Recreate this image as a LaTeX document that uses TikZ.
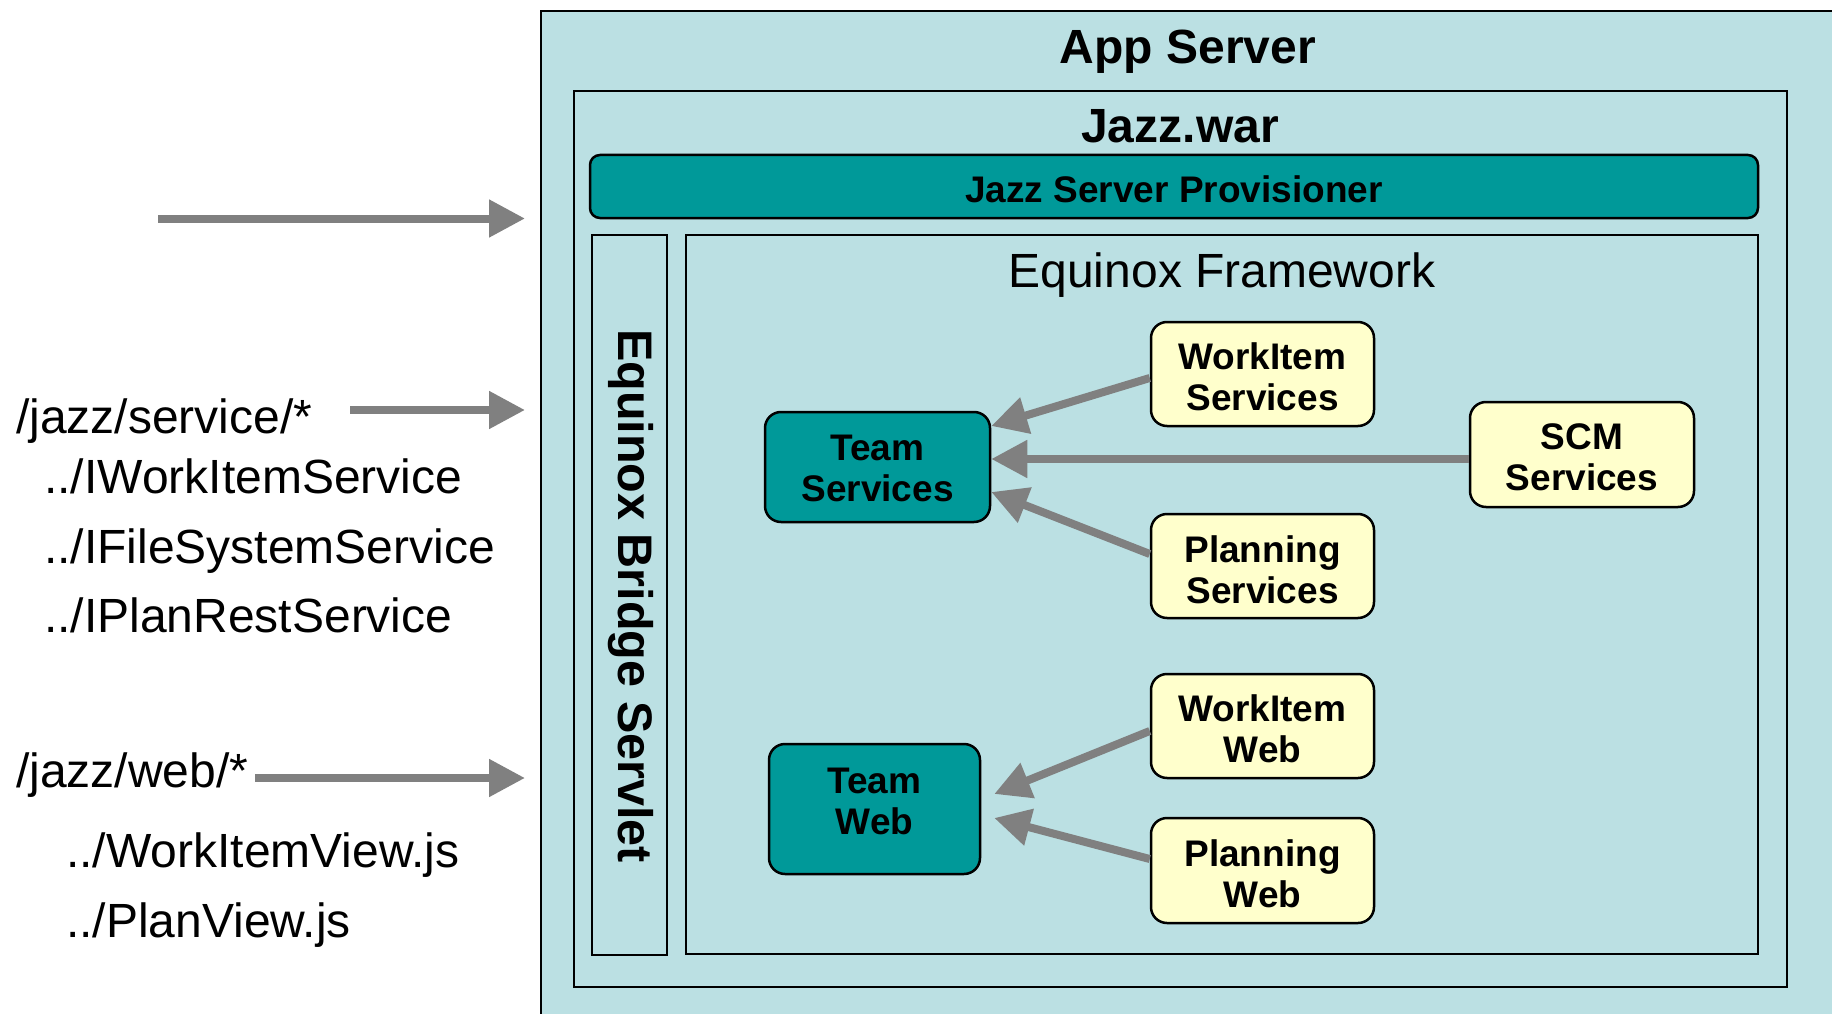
\documentclass[tikz,border=0pt]{standalone}
\usepackage{fontspec}
\setmainfont{Liberation Sans}
\usetikzlibrary{arrows.meta}
\definecolor{bgblue}{RGB}{187,224,227}
\definecolor{tealbox}{RGB}{0,153,153}
\definecolor{cream}{RGB}{255,255,204}
\definecolor{arrgray}{RGB}{128,128,128}
\begin{document}
\begin{tikzpicture}[x=1pt,y=-1pt,
  frame/.style={draw=black, line width=2.5pt, fill=bgblue},
  teambox/.style={draw=black, line width=2.5pt, fill=tealbox, rounded corners=16pt, inner sep=0pt},
  svcbox/.style={teambox, fill=cream},
  boxtxt/.style={align=center, font=\fontsize{37}{41}\selectfont\bfseries, inner sep=0pt},
  conn/.style={draw=arrgray, line width=8pt, -{Triangle[length=36pt,width=36pt]}},
  lbl/.style={anchor=base west, font=\fontsize{48}{48}\selectfont, inner sep=0pt},
  title/.style={anchor=base, font=\fontsize{48}{48}\selectfont\bfseries, inner sep=0pt}]
\useasboundingbox (0,0) rectangle (1832,1014);
\clip (0,0) rectangle (1832,1014);
\fill[white] (0,0) rectangle (1832,1014);

% containers
\draw[frame] (541,11) rectangle (1870,1050);
\node[title] (app) at (1188,64) {App Server};
\draw[frame] (574,91) rectangle (1787,987);
\node[title] (war) at (1180,143) {Jazz.war};
\node[draw=black, line width=2.5pt, fill=tealbox, rounded corners=10pt,
      minimum width=1168pt, minimum height=63pt, inner sep=0pt] (prov) at (1174,186.5) {};
\node[anchor=base, font=\fontsize{37}{37}\selectfont\bfseries, inner sep=0pt] (provtxt) at (1174,202) {Jazz Server Provisioner};
\node[frame, minimum width=75pt, minimum height=720pt, inner sep=0pt] (bridge) at (629.5,595) {};
\node[rotate=-90, font=\fontsize{48.5}{48.5}\selectfont\bfseries, inner sep=0pt] (bridgetxt) at (631,596) {Equinox Bridge Servlet};
\draw[frame] (686,235) rectangle (1758,954);
\node[anchor=base, font=\fontsize{48}{48}\selectfont, inner sep=0pt] (fw) at (1222,287) {Equinox Framework};

% component boxes
\node[teambox, minimum width=225pt, minimum height=110pt] (ts) at (877.5,467) {};
\node[svcbox, minimum width=223pt, minimum height=104pt] (wis) at (1262.5,374) {};
\node[svcbox, minimum width=224pt, minimum height=105pt] (scm) at (1582,454.5) {};
\node[svcbox, minimum width=223pt, minimum height=104pt] (ps) at (1262.5,566) {};
\node[svcbox, minimum width=223pt, minimum height=104pt] (wiw) at (1262.5,726) {};
\node[teambox, minimum width=211pt, minimum height=130pt] (tw) at (874.5,809) {};
\node[svcbox, minimum width=223pt, minimum height=105pt] (pw) at (1262.5,870.5) {};

% box texts
\node[boxtxt] (tstxt) at ([yshift=-1pt]ts.center) {Team\\Services};
\node[boxtxt] (wistxt) at ([yshift=-3pt]wis.center) {WorkItem\\Services};
\node[boxtxt] (scmtxt) at ([yshift=-3pt]scm.center) {SCM\\Services};
\node[boxtxt] (pstxt) at ([yshift=-3.5pt]ps.center) {Planning\\Services};
\node[boxtxt] (wiwtxt) at ([yshift=-3pt]wiw.center) {WorkItem\\Web};
\node[boxtxt] (twtxt) at ([yshift=8pt]tw.center) {Team\\Web};
\node[boxtxt] (pwtxt) at ([yshift=-3pt]pw.center) {Planning\\Web};

% internal connectors
\draw[conn] ([yshift=-4pt]wis.west) -- ([yshift=41pt]ts.east);
\draw[conn] ([yshift=-4.5pt]scm.west) -- ([yshift=8pt]ts.east);
\draw[conn] ([yshift=12pt]ps.west) -- ([yshift=-25pt]ts.east);
\draw[conn] ([yshift=-5pt]wiw.west) -- ([xshift=13pt,yshift=15pt]tw.east);
\draw[conn] ([yshift=11.5pt]pw.west) -- ([xshift=13pt,yshift=-9pt]tw.east);

% left labels
\node[lbl] (svc) at (16,433) {/jazz/service/*};
\node[lbl] (l1) at (44,493) {../IWorkItemService};
\node[lbl] (l2) at (44,563) {../IFileSystemService};
\node[lbl] (l3) at (44,632) {../IPlanRestService};
\node[lbl] (web) at (16,787) {/jazz/web/*};
\node[lbl] (l4) at (66,867) {../WorkItemView.js};
\node[lbl] (l5) at (66,937) {../PlanView.js};

% incoming connectors
\coordinate (topsrc) at (158,218.5);
\coordinate (toptgt) at (525,218.5);
\coordinate (svcsrc) at (350,410);
\coordinate (svctgt) at (525,410);
\coordinate (websrc) at (255,778);
\coordinate (webtgt) at (525,778);
\draw[conn] (topsrc) -- (toptgt);
\draw[conn] (svcsrc) -- (svctgt);
\draw[conn] (websrc) -- (webtgt);
\end{tikzpicture}
\end{document}
